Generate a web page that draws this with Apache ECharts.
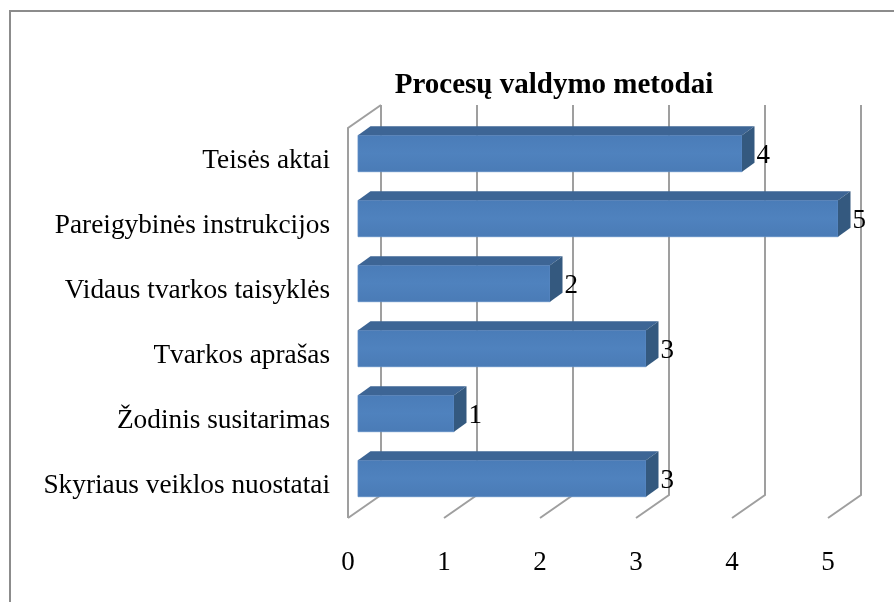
<!DOCTYPE html>
<html>
<head>
<meta charset="utf-8">
<script src="https://cdn.jsdelivr.net/npm/echarts@6/dist/echarts.min.js"></script>
<style>
  html, body { margin: 0; padding: 0; background: #fff; }
  #chart { width: 894px; height: 602px; }
</style>
</head>
<body>
<div id="chart"></div>
<script>
const titleText = 'Procesų valdymo metodai'
const categories = [
  'Teisės aktai',
  'Pareigybinės instrukcijos',
  'Vidaus tvarkos taisyklės',
  'Tvarkos aprašas',
  'Žodinis susitarimas',
  'Skyriaus veiklos nuostatai'
]
const values = [4, 5, 2, 3, 1, 3]
const ticks = [0, 1, 2, 3, 4, 5]

const FONT = '"Liberation Serif", "Times New Roman", serif'
const GRID_COLOR = '#9f9f9f'
// 3D depth of the walls and of the bars
const WALL_DX = 33, WALL_DY = -23
const BAR_OFF_X = 10, BAR_OFF_Y = -7
const BAR_DX = 12.5, BAR_DY = -9

const chart = echarts.init(document.getElementById('chart'))

function renderWalls(params, api) {
  const cs = params.coordSys
  const v = api.value(0)
  const x = api.coord([v, 0])[0]
  const bottom = cs.y + cs.height
  const top = cs.y
  const style = { stroke: GRID_COLOR, lineWidth: 2, fill: null }
  const pts = [
    [x + WALL_DX, top + WALL_DY],
    [x + WALL_DX, bottom + WALL_DY],
    [x, bottom]
  ]
  const children = [{ type: 'polyline', shape: { points: pts }, style }]
  if (v === 0) {
    children.push({
      type: 'polyline',
      shape: { points: [[x, bottom], [x, top], [x + WALL_DX, top + WALL_DY]] },
      style
    })
  }
  return { type: 'group', children }
}

function renderBar(params, api) {
  const idx = api.value(0)
  const val = api.value(1)
  const c0 = api.coord([0, idx])
  const c1 = api.coord([val, idx])
  const band = api.size([0, 1])[1]
  const h = band * 0.56
  const xl = c0[0] + BAR_OFF_X
  const xr = c1[0] + BAR_OFF_X
  const cy = c0[1] + BAR_OFF_Y
  const yt = cy - h / 2
  const yb = cy + h / 2
  return {
    type: 'group',
    children: [
      {
        type: 'rect',
        shape: { x: xl, y: yt, width: xr - xl, height: h },
        style: {
          fill: new echarts.graphic.LinearGradient(0, 0, 0, 1, [
            { offset: 0, color: '#4a7cb8' },
            { offset: 0.5, color: '#4f82be' },
            { offset: 1, color: '#4a7bb6' }
          ]),
          stroke: '#5d8cc4', lineWidth: 0.8
        }
      },
      {
        type: 'polygon',
        shape: { points: [[xl, yt], [xl + BAR_DX, yt + BAR_DY], [xr + BAR_DX, yt + BAR_DY], [xr, yt]] },
        style: { fill: '#3d6595' }
      },
      {
        type: 'polygon',
        shape: { points: [[xr, yt], [xr + BAR_DX, yt + BAR_DY], [xr + BAR_DX, yb + BAR_DY], [xr, yb]] },
        style: { fill: '#34597f' }
      },
      {
        type: 'text',
        style: {
          x: xr + BAR_DX + 2, y: cy + 2,
          text: String(val),
          font: '27px ' + FONT,
          fill: '#000',
          align: 'left', verticalAlign: 'middle'
        }
      }
    ]
  }
}

const option = {
  animation: false,
  backgroundColor: '#fff',
  graphic: [
    {
      type: 'rect',
      shape: { x: 10, y: 11, width: 1000, height: 1000 },
      style: { fill: null, stroke: '#8c8c8c', lineWidth: 2 },
      silent: true
    },
    {
      type: 'text',
      x: 554, y: 86,
      style: {
        text: titleText,
        font: 'bold 29px ' + FONT,
        fill: '#000',
        align: 'center', verticalAlign: 'middle'
      }
    }
  ],
  grid: { left: 348, right: 66, top: 128, bottom: 84 },
  xAxis: {
    type: 'value',
    min: 0, max: 5, interval: 1,
    axisLine: { show: false },
    axisTick: { show: false },
    splitLine: { show: false },
    axisLabel: { color: '#000', fontSize: 27, fontFamily: FONT, margin: 31 }
  },
  yAxis: {
    type: 'category',
    inverse: true,
    data: categories,
    axisLine: { show: false },
    axisTick: { show: false },
    axisLabel: {
      color: '#000', fontSize: 27.3, fontFamily: FONT, margin: 18,
      padding: [6, 0, 0, 0]
    }
  },
  series: [
    {
      type: 'custom',
      renderItem: renderWalls,
      data: ticks.map(t => [t]),
      encode: { x: 0 },
      z: 1,
      silent: true
    },
    {
      type: 'custom',
      renderItem: renderBar,
      data: values.map((v, i) => [i, v]),
      encode: { y: 0, x: 1 },
      z: 2
    }
  ]
}

chart.setOption(option)
</script>
</body>
</html>
